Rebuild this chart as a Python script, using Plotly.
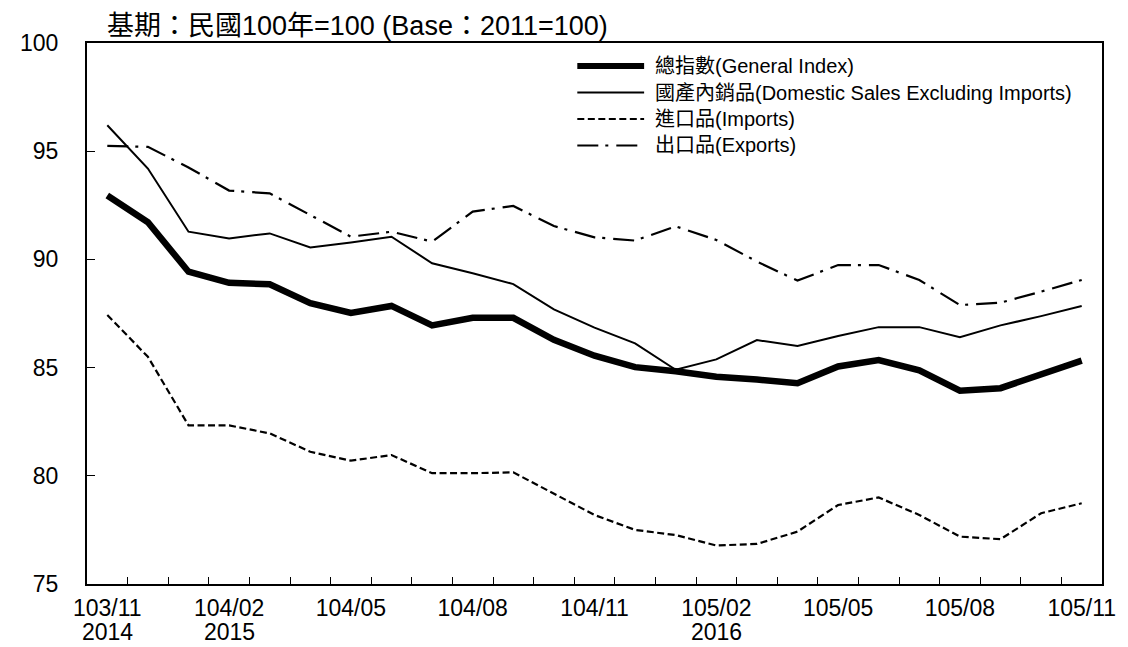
import plotly.graph_objects as go

months = ["103/11", "103/12", "104/01", "104/02", "104/03", "104/04", "104/05",
          "104/06", "104/07", "104/08", "104/09", "104/10", "104/11", "104/12",
          "105/01", "105/02", "105/03", "105/04", "105/05", "105/06", "105/07",
          "105/08", "105/09", "105/10", "105/11"]

tick_labels = {"103/11": "103/11", "104/02": "104/02", "104/05": "104/05",
               "104/08": "104/08", "104/11": "104/11", "105/02": "105/02",
               "105/05": "105/05", "105/08": "105/08", "105/11": "105/11"}
year_labels = {"103/11": "2014", "104/02": "2015", "105/02": "2016"}

general = [92.95, 91.72, 89.43, 88.92, 88.85, 87.98, 87.53, 87.85, 86.95, 87.30,
           87.30, 86.28, 85.55, 85.02, 84.83, 84.58, 84.45, 84.28, 85.05, 85.35,
           84.87, 83.93, 84.05, 84.72, 85.32]
domestic = [96.20, 94.20, 91.28, 90.97, 91.20, 90.55, 90.78, 91.05, 89.82, 89.36,
            88.86, 87.69, 86.85, 86.12, 84.90, 85.38, 86.27, 86.00, 86.46, 86.87,
            86.87, 86.40, 86.95, 87.38, 87.85]
imports = [87.43, 85.50, 82.33, 82.33, 81.96, 81.11, 80.70, 80.96, 80.12, 80.12,
           80.16, 79.19, 78.19, 77.50, 77.26, 76.78, 76.85, 77.42, 78.65, 79.00,
           78.19, 77.19, 77.07, 78.27, 78.73]
exports = [95.25, 95.20, 94.25, 93.18, 93.05, 92.05, 91.05, 91.28, 90.82, 92.21,
           92.47, 91.54, 91.02, 90.87, 91.53, 90.90, 89.90, 89.02, 89.74, 89.74,
           89.05, 87.89, 88.00, 88.51, 89.05]

series_names = ["總指數(General Index)", "國產內銷品(Domestic Sales Excluding Imports)",
                "進口品(Imports)", "出口品(Exports)"]
y_ticks = [75, 80, 85, 90, 95, 100]

FONT = "Liberation Sans, Arial, Noto Sans CJK TC, sans-serif"

styles = [
    dict(color="black", width=6.5, dash="solid"),
    dict(color="black", width=2, dash="solid"),
    dict(color="black", width=2.2, dash="7px,3.5px"),
    dict(color="black", width=2.2, dash="21px,7px,3px,8px"),
]

fig = go.Figure()
for name, vals, st in zip(series_names, [general, domestic, imports, exports], styles):
    fig.add_trace(go.Scatter(x=months, y=vals, mode="lines", name=name,
                             line=dict(color=st["color"], width=st["width"], dash=st["dash"]),
                             showlegend=False))

# The page body has an 8px default margin; target plot area in page pixels
OFF = 8
L, R, T, B = 75, 1108, 43, 584
FW, FH = 1128 - OFF, 647 - OFF
W, H = R - L, B - T

def px(x):
    return (x - L) / W

def py(y):
    return (B - y) / H

# Manual legend (long line samples like the original)
legend_rows = [66, 92.5, 119, 145.5]
shapes = []
annotations = []
for (name, st, yy) in zip(series_names, styles, legend_rows):
    shapes.append(dict(type="line", xref="paper", yref="paper",
                       x0=px(574), x1=px(642), y0=py(yy), y1=py(yy),
                       line=dict(color="black", width=st["width"] if st["width"] < 4 else 6,
                                 dash=st["dash"])))
    annotations.append(dict(xref="paper", yref="paper", x=px(651), y=py(yy),
                            xanchor="left", yanchor="middle", text=name, showarrow=False,
                            font=dict(family=FONT, size=20, color="black")))

# Title (top of its box at the very top of the figure)
annotations.append(dict(xref="paper", yref="paper", x=px(93), y=py(OFF + 0.5),
                        xanchor="left", yanchor="top",
                        text="基期：民國100年=100 (Base：2011=100)", showarrow=False,
                        font=dict(family=FONT, size=27, color="black")))

# Year labels under the month labels
for m, yr in year_labels.items():
    annotations.append(dict(xref="x", yref="paper", x=m, y=py(632),
                            xanchor="center", yanchor="middle", text=yr, showarrow=False,
                            font=dict(family=FONT, size=23, color="black")))

fig.update_layout(
    width=FW, height=FH,
    margin=dict(l=L - OFF, r=1128 - R, t=T - OFF, b=647 - B, pad=0),
    paper_bgcolor="white", plot_bgcolor="white",
    font=dict(family=FONT, size=23, color="black"),
    shapes=shapes, annotations=annotations,
    showlegend=False,
)
fig.update_xaxes(
    type="category", tickmode="array", tickvals=months,
    ticktext=[tick_labels.get(m, "") for m in months],
    tickson="boundaries", ticks="inside", ticklen=7, tickcolor="black", tickwidth=1,
    showline=True, linecolor="black", linewidth=2, mirror=True,
    showgrid=False, zeroline=False, range=[-0.5, len(months) - 0.5],
    tickfont=dict(family=FONT, size=23, color="black"), tickangle=0,
    ticklabelstandoff=2,
)
fig.update_yaxes(
    range=[75, 100], tickmode="array", tickvals=y_ticks,
    ticks="inside", ticklen=8, tickcolor="black", tickwidth=1,
    showline=True, linecolor="black", linewidth=2, mirror=True,
    showgrid=False, zeroline=False, ticklabelstandoff=22,
    tickfont=dict(family=FONT, size=23, color="black"),
)

fig.write_html("out.html")
